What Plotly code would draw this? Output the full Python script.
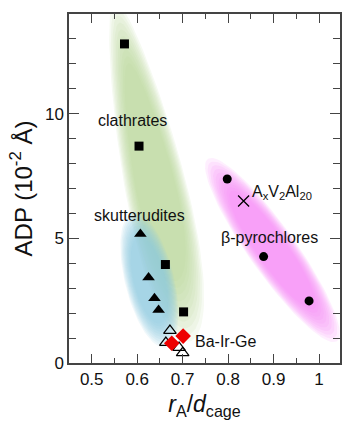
import numpy as np
import plotly.graph_objects as go

# ---------------- data ----------------
clath_x = [0.572, 0.604, 0.662, 0.702]
clath_y = [12.8, 8.7, 3.95, 2.05]

skut_x = [0.607, 0.625, 0.638, 0.647]
skut_y = [5.17, 3.43, 2.6, 2.13]

open_tri_x = [0.672, 0.663, 0.692, 0.700]
open_tri_y = [1.3, 0.82, 0.62, 0.41]

bairge_x = [0.701, 0.676]
bairge_y = [1.08, 0.79]

pyro_x = [0.798, 0.878, 0.978]
pyro_y = [7.38, 4.27, 2.49]

avai_x = [0.834]
avai_y = [6.5]

x_tick_vals = [0.5, 0.6, 0.7, 0.8, 0.9, 1.0]
x_tick_text = ["0.5", "0.6", "0.7", "0.8", "0.9", "1"]
y_tick_vals = [0, 5, 10]
y_tick_text = ["0", "5", "10"]

labels = ["clathrates", "skutterudites", "A<sub>x</sub>V<sub>2</sub>Al<sub>20</sub>",
          "β-pyrochlores", "Ba-Ir-Ge"]
label_x = [0.589, 0.606, 0.849, 0.891, 0.723]
label_y = [9.71, 5.9, 6.85, 5.05, 0.88]

# ---------------- geometry ----------------
W, H = 343, 427
ML, MR, MT, MB = 69, 1, 14, 64
XR = [0.45, 1.046]
YR = [0, 14]
pw = W - ML - MR
ph = H - MT - MB
sx = (XR[1] - XR[0]) / pw   # data per px
sy = (YR[1] - YR[0]) / ph

# shaded regions: center (data), half-length/half-width (px), tilt from vertical (deg), taper
regions = [
    dict(cx=0.45 + (153 - ML) * sx, cy=(363 - 172) * sy, a=155, b=27, ang=12.5, k=0.3,
         rgb=(182, 210, 146), alpha=0.12),
    dict(cx=0.45 + (150 - ML) * sx, cy=(363 - 280) * sy, a=62, b=22, ang=14, k=0.0,
         rgb=(140, 198, 222), alpha=0.13),
    dict(cx=0.45 + (274 - ML) * sx, cy=(363 - 250) * sy, a=100, b=21, ang=35.6, k=0.0,
         rgb=(246, 128, 246), alpha=0.13),
]

fig = go.Figure()
t = np.linspace(0, 2 * np.pi, 100)
nlay = 10
for r in regions:
    th = np.radians(r["ang"])
    for s in np.linspace(1.12, 0.72, nlay):
        u = r["b"] * s * np.cos(t) * (1 + r["k"] * np.sin(t))
        v = r["a"] * s * np.sin(t)
        px = u * np.cos(th) + v * np.sin(th)
        py = -u * np.sin(th) + v * np.cos(th)
        xs = r["cx"] + px * sx
        ys = r["cy"] - py * sy
        fig.add_trace(go.Scatter(
            x=xs, y=ys, mode="lines", fill="toself",
            line=dict(width=0),
            fillcolor="rgba(%d,%d,%d,%.2f)" % (*r["rgb"], r["alpha"]),
            hoverinfo="skip", showlegend=False))

mk = dict(mode="markers", showlegend=False)
fig.add_trace(go.Scatter(x=clath_x, y=clath_y, marker=dict(symbol="square", size=9, color="black"), **mk))
fig.add_trace(go.Scatter(x=skut_x, y=skut_y, marker=dict(symbol="triangle-up", size=11, color="black"), **mk))
fig.add_trace(go.Scatter(x=open_tri_x, y=open_tri_y,
                         marker=dict(symbol="triangle-up-open", size=11, color="black", line=dict(width=1.2)), **mk))
fig.add_trace(go.Scatter(x=bairge_x, y=bairge_y, marker=dict(symbol="diamond", size=12, color="#ee0000"), **mk))
fig.add_trace(go.Scatter(x=pyro_x, y=pyro_y, marker=dict(symbol="circle", size=9, color="black"), **mk))
fig.add_trace(go.Scatter(x=avai_x, y=avai_y,
                         marker=dict(symbol="x-thin-open", size=11, color="black", line=dict(width=1.3, color="black")), **mk))

anchors = ["center", "center", "left", "center", "left"]
for txt, x, y, an in zip(labels, label_x, label_y, anchors):
    fig.add_annotation(x=x, y=y, text=txt, showarrow=False, xanchor=an, yanchor="middle",
                       font=dict(size=16, color="#111"))

axcol = "#444"
fig.update_xaxes(range=XR, tickvals=x_tick_vals, ticktext=x_tick_text,
                 ticks="inside", ticklen=9, tickwidth=1.3, tickcolor=axcol,
                 minor=dict(dtick=0.05, tick0=0.45, ticks="inside", ticklen=5, tickwidth=1.3, tickcolor=axcol),
                 showline=True, linecolor=axcol, linewidth=1.5, mirror="ticks",
                 showgrid=False, zeroline=False,
                 tickfont=dict(size=17, color="#111"),
                 title=dict(text="<i>r</i><sub>A</sub>/<i>d</i><sub>cage</sub>",
                            font=dict(size=23, color="#111"), standoff=8))
fig.update_yaxes(range=YR, tickvals=y_tick_vals, ticktext=y_tick_text,
                 ticks="inside", ticklen=10, tickwidth=1.3, tickcolor=axcol,
                 minor=dict(dtick=1, tick0=0, ticks="inside", ticklen=7, tickwidth=1.3, tickcolor=axcol),
                 showline=True, linecolor=axcol, linewidth=1.5, mirror="ticks",
                 showgrid=False, zeroline=False,
                 tickfont=dict(size=17, color="#111"),
                 title=dict(text="ADP (10<sup>-2</sup> Å)", font=dict(size=24, color="#111"), standoff=6))

fig.update_layout(width=W, height=H, margin=dict(l=ML, r=MR, t=MT, b=MB),
                  paper_bgcolor="white", plot_bgcolor="white",
                  font=dict(family="Liberation Sans, Arial, sans-serif"))
fig.write_html("out.html", config={"displayModeBar": False},
               post_script="document.body.style.margin='0';document.body.style.overflow='hidden';")
